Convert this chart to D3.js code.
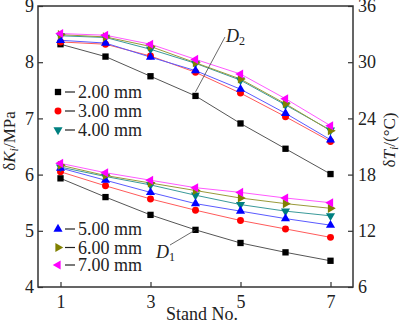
<!DOCTYPE html>
<html>
<head>
<meta charset="utf-8">
<script src="https://cdn.jsdelivr.net/npm/d3@7"></script>
<style>
body { margin: 0; background: #fff; }
text { font-family: "Liberation Serif", "Times New Roman", serif; fill: #222; }
</style>
</head>
<body>
<svg width="400" height="325"></svg>
<script>
var stands = [1, 2, 3, 4, 5, 6, 7];
var xTicks = [1, 3, 5, 7];
var leftTicks = [4, 5, 6, 7, 8, 9];
var rightTicks = [6, 12, 18, 24, 30, 36];
var thickness = ["2.00 mm", "3.00 mm", "4.00 mm", "5.00 mm", "6.00 mm", "7.00 mm"];

// upper group (D2) - dK, left axis, MPa
var dK_2 = [8.32, 8.10, 7.75, 7.40, 6.91, 6.46, 6.01];
var dK_3 = [8.36, 8.32, 8.11, 7.82, 7.45, 7.03, 6.59];
var dK_4 = [8.47, 8.44, 8.23, 7.98, 7.68, 7.24, 6.79];
var dK_5 = [8.39, 8.34, 8.09, 7.85, 7.52, 7.09, 6.62];
var dK_6 = [8.49, 8.45, 8.28, 7.99, 7.70, 7.26, 6.78];
var dK_7 = [8.51, 8.48, 8.32, 8.05, 7.79, 7.35, 6.87];

// lower group (D1) - dT, right axis, degC
var dT_2 = [17.6, 15.6, 13.7, 12.1, 10.7, 9.7, 8.8];
var dT_3 = [18.3, 16.8, 15.4, 14.2, 13.1, 12.2, 11.3];
var dT_4 = [18.8, 17.8, 16.9, 15.8, 14.8, 14.1, 13.6];
var dT_5 = [18.7, 17.4, 16.1, 14.9, 14.1, 13.3, 12.6];
var dT_6 = [19.0, 17.9, 17.1, 16.3, 15.5, 14.9, 14.4];
var dT_7 = [19.2, 18.2, 17.4, 16.6, 16.1, 15.5, 15.0];

var colors = ["#000000", "#ff0000", "#008080", "#0000ff", "#808000", "#ff00ff"];
var lineColors = ["#555555", "#ff5a5a", "#3a9a9a", "#5a5aff", "#9a9a3a", "#ff5aff"];
// legend order: 2,3,4 top / 5,6,7 bottom
var symbols = [
  {type: d3.symbolSquare, size: 40, rot: 0},
  {type: d3.symbolCircle, size: 38, rot: 0},
  {type: d3.symbolTriangle, size: 36, rot: 180},
  {type: d3.symbolTriangle, size: 36, rot: 0},
  {type: d3.symbolTriangle, size: 36, rot: 90},
  {type: d3.symbolTriangle, size: 36, rot: -90}
];

var upper = [dK_2, dK_3, dK_4, dK_5, dK_6, dK_7];
var lower = [dT_2, dT_3, dT_4, dT_5, dT_6, dT_7];

var svg = d3.select("svg");
var pLeft = 38, pRight = 353, pTop = 6, pBottom = 287;

var x = d3.scaleLinear().domain([0.5, 7.5]).range([pLeft, pRight]);
var yL = d3.scaleLinear().domain([4, 9]).range([pBottom, pTop]);
var yR = d3.scaleLinear().domain([6, 36]).range([pBottom, pTop]);

// axes, ticks pointing inward
var gx = svg.append("g").attr("transform", "translate(0," + pBottom + ")")
  .call(d3.axisBottom(x).tickValues(xTicks).tickFormat(d3.format("d")).tickSizeInner(-5).tickSizeOuter(0).tickPadding(8));
var gl = svg.append("g").attr("transform", "translate(" + pLeft + ",0)")
  .call(d3.axisLeft(yL).tickValues(leftTicks).tickFormat(d3.format("d")).tickSizeInner(-5).tickSizeOuter(0).tickPadding(4));
var gr = svg.append("g").attr("transform", "translate(" + pRight + ",0)")
  .call(d3.axisRight(yR).tickValues(rightTicks).tickFormat(d3.format("d")).tickSizeInner(-5).tickSizeOuter(0).tickPadding(5));

[gx, gl, gr].forEach(function(g) {
  g.select(".domain").remove();
  g.selectAll("line").attr("stroke", "#333").attr("stroke-width", 1.2);
  g.selectAll("text").attr("font-size", 18).attr("fill", "#222")
    .style("font-family", '"Liberation Serif", serif');
});

svg.append("rect") // frame
  .attr("x", pLeft).attr("y", pTop)
  .attr("width", pRight - pLeft).attr("height", pBottom - pTop)
  .attr("fill", "none").attr("stroke", "#333").attr("stroke-width", 1.5);

function drawGroup(data, yScale) {
  data.forEach(function(vals, i) {
    var pts = stands.map(function(s, j) { return [s, vals[j]]; });
    svg.append("path")
      .datum(pts)
      .attr("fill", "none")
      .attr("stroke", lineColors[i])
      .attr("stroke-width", 1)
      .attr("d", d3.line().x(function(d) { return x(d[0]); }).y(function(d) { return yScale(d[1]); }));
  });
}
function drawMarkers(data, yScale) {
  data.forEach(function(vals, i) {
    var sym = symbols[i];
    svg.append("g").selectAll("path")
      .data(stands.map(function(s, j) { return [s, vals[j]]; }))
      .enter().append("path")
      .attr("d", d3.symbol().type(sym.type).size(sym.size))
      .attr("fill", colors[i])
      .attr("transform", function(d) {
        return "translate(" + x(d[0]) + "," + yScale(d[1]) + ") rotate(" + sym.rot + ")";
      });
  });
}
drawGroup(upper, yL);
drawGroup(lower, yR);
drawMarkers(upper, yL);
drawMarkers(lower, yR);

// legends
var legY = [92, 111, 130, 229, 247.5, 265];
thickness.forEach(function(t, i) {
  var sym = symbols[i];
  var g = svg.append("g");
  g.append("path")
    .attr("d", d3.symbol().type(sym.type).size(sym.size))
    .attr("fill", colors[i])
    .attr("transform", "translate(58," + legY[i] + ") rotate(" + sym.rot + ")");
  g.append("line").attr("x1", 65).attr("x2", 75).attr("y1", legY[i]).attr("y2", legY[i])
    .attr("stroke", "#222").attr("stroke-width", 1.2);
  g.append("text").attr("x", 78).attr("y", legY[i] + 6).attr("font-size", 18).text(t);
});

// D2 / D1 annotations
svg.append("line").attr("x1", 225).attr("y1", 37).attr("x2", x(4)).attr("y2", yL(dK_2[3]) - 4)
  .attr("stroke", "#444").attr("stroke-width", 0.8);
var d2 = svg.append("text").attr("x", 226).attr("y", 42).attr("font-size", 18);
d2.append("tspan").attr("font-style", "italic").text("D");
d2.append("tspan").attr("font-size", 12).attr("dy", 3).text("2");

svg.append("line").attr("x1", 170).attr("y1", 245).attr("x2", x(4)).attr("y2", yR(dT_2[3]))
  .attr("stroke", "#444").attr("stroke-width", 0.8);
var d1 = svg.append("text").attr("x", 156).attr("y", 258).attr("font-size", 18);
d1.append("tspan").attr("font-style", "italic").text("D");
d1.append("tspan").attr("font-size", 12).attr("dy", 3).text("1");

// axis titles
svg.append("text").attr("x", 202).attr("y", 320)
  .attr("text-anchor", "middle").attr("font-size", 18).text("Stand No.");

var tl = svg.append("text").attr("text-anchor", "middle").attr("font-size", 17)
  .attr("transform", "translate(15,141) rotate(-90)");
tl.append("tspan").text("δ");
tl.append("tspan").attr("font-style", "italic").text("K");
tl.append("tspan").attr("font-style", "italic").attr("font-size", 12).attr("dy", 3).text("i");
tl.append("tspan").attr("dy", -3).text("/MPa");

var tr = svg.append("text").attr("text-anchor", "middle").attr("font-size", 17)
  .attr("transform", "translate(395,140) rotate(-90)");
tr.append("tspan").text("δ");
tr.append("tspan").attr("font-style", "italic").text("T");
tr.append("tspan").attr("font-style", "italic").attr("font-size", 12).attr("dy", 3).text("i");
tr.append("tspan").attr("dy", -3).text("/(°C)");
</script>
</body>
</html>
